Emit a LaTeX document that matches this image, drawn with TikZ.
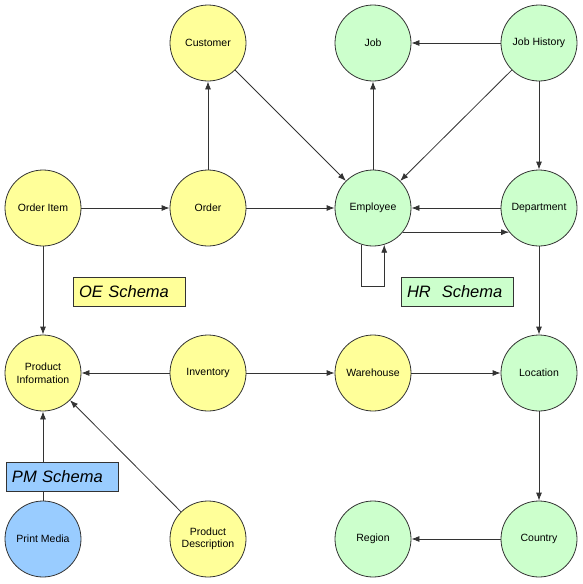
\documentclass[tikz,border=0pt]{standalone}
\usepackage{fontspec}
\setmainfont{Liberation Sans}
\usetikzlibrary{arrows.meta}
\definecolor{oey}{HTML}{FFFF99}
\definecolor{hrg}{HTML}{CCFFCC}
\definecolor{pmb}{HTML}{99CCFF}
\definecolor{ln}{HTML}{333333}
\begin{document}
\begin{tikzpicture}[x=1pt,y=-1pt,
  ent/.style={circle,draw=ln,line width=0.8pt,minimum size=76pt,inner sep=0pt,align=center,font=\fontsize{10.5}{12.5}\selectfont},
  oe/.style={ent,fill=oey},
  hr/.style={ent,fill=hrg},
  pm/.style={ent,fill=pmb},
  lgd/.style={draw=ln,line width=0.8pt,text width=100pt,align=left,inner xsep=6pt,minimum height=29pt,inner ysep=0pt,font=\fontsize{16.5}{18}\selectfont\itshape},
  arr/.style={draw=ln,line width=0.8pt,-{Latex[length=8pt,width=6pt]}}]
\useasboundingbox (0,0) rectangle (582,584);
% nodes
\node[oe] (cust) at (208,43) {Customer};
\node[hr] (job) at (373,43) {Job};
\node[hr] (jh) at (539,43) {Job History};
\node[oe] (oi) at (43,208) {Order Item};
\node[oe] (ord) at (208,208) {Order};
\node[hr] (emp) at (373,208) {Employee};
\node[hr] (dep) at (539,208) {Department};
\node[oe] (pi) at (43,373) {Product\\Information};
\node[oe] (inv) at (208,373) {Inventory};
\node[oe] (wh) at (373,373) {Warehouse};
\node[hr] (loc) at (539,373) {Location};
\node[pm] (prm) at (43,539) {Print Media};
\node[oe] (pd) at (208,539) {Product\\Description};
\node[hr] (reg) at (373,539) {Region};
\node[hr] (cty) at (539,539) {Country};
% connectors
\draw[arr] (ord) -- (cust);
\draw[arr] (cust) -- (emp);
\draw[arr] (oi) -- (ord);
\draw[arr] (ord) -- (emp);
\draw[arr] (emp) -- (job);
\draw[arr] (jh) -- (job);
\draw[arr] (jh) -- (emp);
\draw[arr] (jh) -- (dep);
\draw[arr] (dep) -- (emp);
\draw[arr] (emp.-39) -- (dep.219);
\coordinate (l1) at (362,286);
\draw[arr] (emp.253) -- (emp.253 |- l1) -- (l1 -| emp.287) -- (emp.287);
\draw[arr] (oi) -- (pi);
\draw[arr] (inv) -- (pi);
\draw[arr] (inv) -- (wh);
\draw[arr] (wh) -- (loc);
\draw[arr] (dep) -- (loc);
\draw[arr] (loc) -- (cty);
\draw[arr] (cty) -- (reg);
\draw[arr] (pd) -- (pi);
\draw[arr] (prm) -- (pi);
% legends
\node[lgd,fill=oey] (oel) at (129,291.5) {OE Schema};
\node[lgd,fill=hrg] (hrl) at (457,291.5) {HR\ \ Schema};
\node[lgd,fill=pmb] (pml) at (62,476.5) {PM Schema};
\end{tikzpicture}
\end{document}
